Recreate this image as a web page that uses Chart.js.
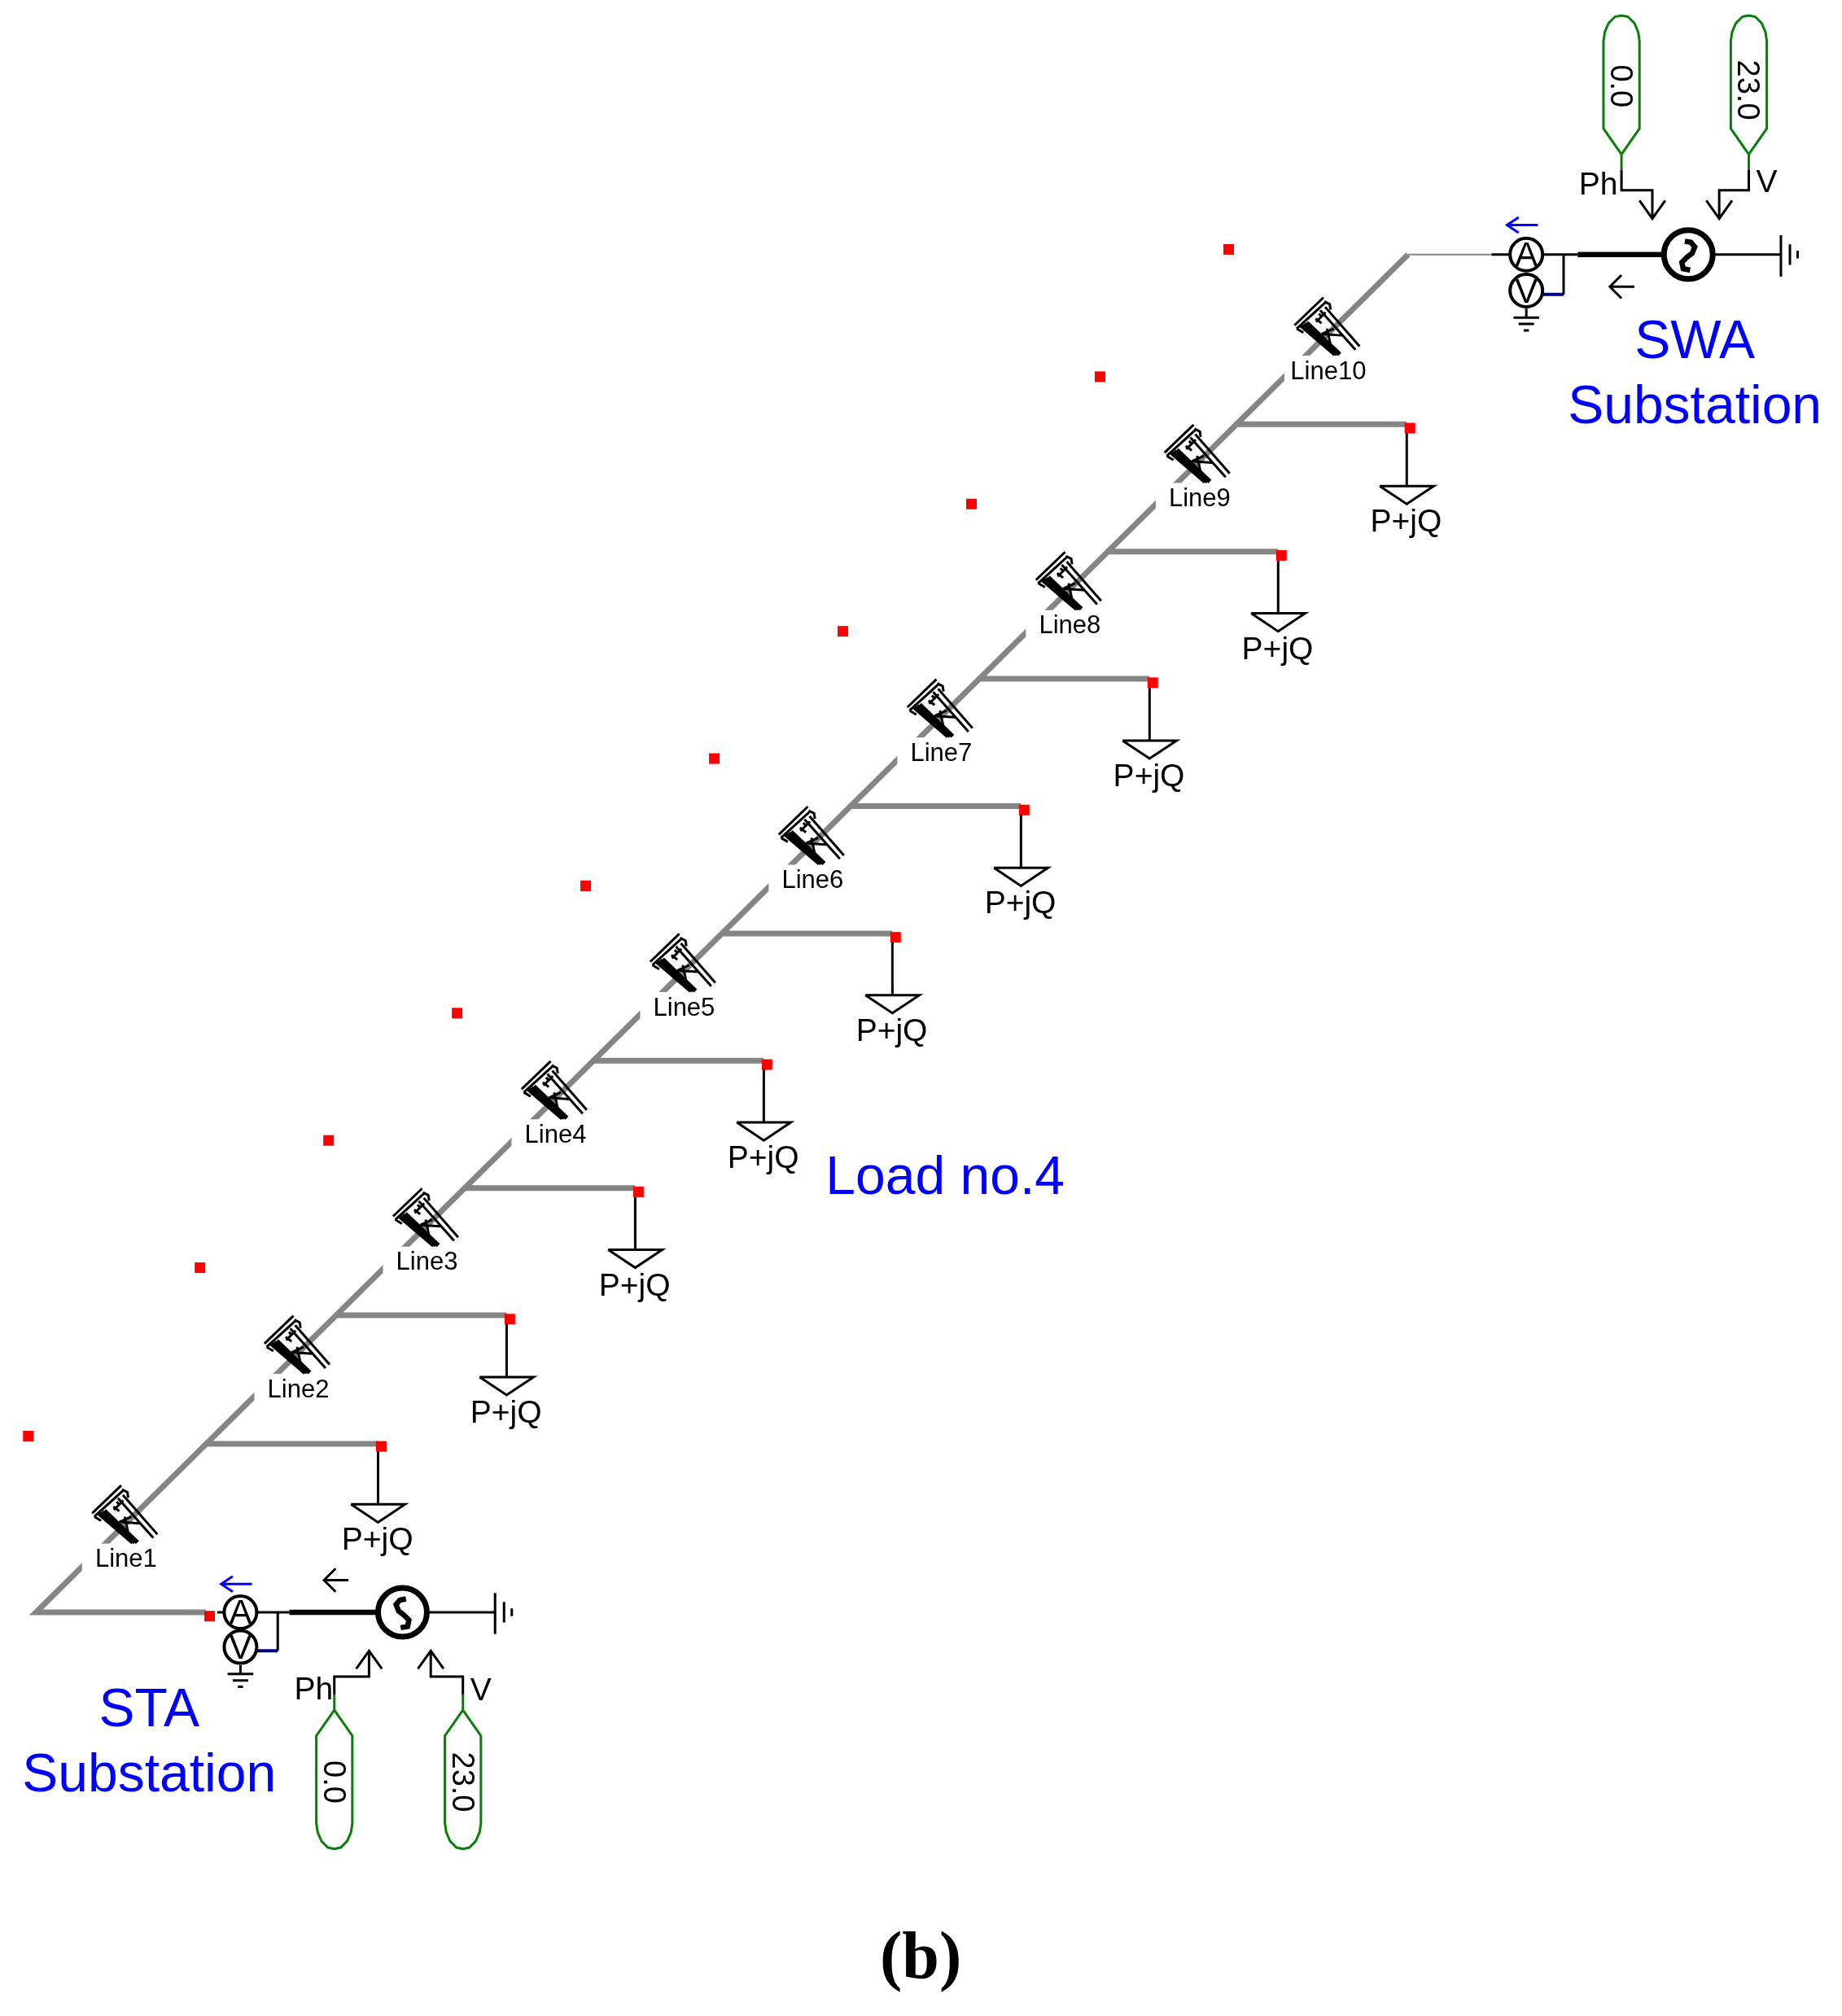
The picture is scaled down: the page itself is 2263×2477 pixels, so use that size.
<!DOCTYPE html>
<html>
<head>
<meta charset="utf-8">
<title>Feeder diagram</title>
<script src="https://cdn.jsdelivr.net/npm/chart.js@4"></script>
<style>
  html, body { margin: 0; padding: 0; background: #fff; }
  canvas { display: block; }
</style>
</head>
<body>
<canvas id="diagram" width="2263" height="2477" style="width:2263px;height:2477px"></canvas>
<script>
// all positions below are in the units of the value axes (picture scaled to 1432.5 x 1568)
const lineNames = ["Line1", "Line2", "Line3", "Line4", "Line5", "Line6", "Line7", "Line8", "Line9", "Line10"];
const lineLabelX = [98, 232, 332, 432, 532, 632, 732, 832, 933, 1033];
const lineLabelY = [1212, 1080, 981, 882, 783, 684, 585, 486, 387, 288];
const towerX = [97, 231, 331, 431, 531, 631, 731, 831, 931, 1032];
const towerY = [1177.5, 1045.5, 946.5, 847.5, 748.5, 649.5, 550.5, 451.5, 352.5, 253.5];

const branchStartX = [160, 260, 360, 460, 560, 660, 760, 860, 960];
const loadX = [294, 394, 494, 594, 694, 794, 894, 994, 1094];
const branchY = [1123, 1023, 924, 825, 726, 627, 528, 429, 330];
const loadTipY = [1184, 1085, 986, 887, 788, 689, 590, 491, 392];
const loadLabelX = [293.5, 393.5, 493.5, 593.5, 693.5, 793.5, 893.5, 993.5, 1093.5];
const loadLabelY = [1197, 1098, 999, 900, 801, 702, 603, 504, 405];

const freeDotX = [22, 155.5, 255.5, 355.5, 455.5, 555.5, 655.5, 755.5, 855.5, 955.5];
const freeDotY = [1117, 986, 887, 788, 689, 590, 491, 392, 293, 194];
const loadDotX = [163, 296.5, 396.5, 496.5, 596.5, 696.5, 796.5, 896.5, 996.5, 1096.5];
const loadDotY = [1257, 1125, 1026, 927, 828, 729, 630, 531, 432, 333];

const feederX = [160, 28, 1095];
const feederY = [1254, 1254, 198];

const sourceNames = ["STA", "SWA"];
const busY = [1254, 198];
const ammeterX = [187, 1187];
const voltmeterY = [1281, 226];
const generatorX = [313, 1313];
const setPointValues = ["0.0", "23.0"];

// tower symbol, offsets read from the Line9 symbol at 3x
const towerStrokes = [
  [[-120, -2], [-13, -105]],
  [[-112, 10], [-2, -90]],
  [[-112, 10], [-87, 25]],
  [[-10, -90], [10, -80], [13, -60]],
  [[-7, -70], [120, 75]],
  [[-25, -58], [105, 88]],
  [[-82, -17], [-27, -67]],
  [[-42, -27], [-20, -10]],
  [[-40, -15], [-20, -35], [-30, -45]],
  [[-20, -35], [-5, -50]],
  [[-20, 30], [55, 35]],
  [[0, 10], [15, 80]],
  [[-20, 30], [25, 10]]
];
const towerHeavyStrokes = [
  [[-95, -2], [30, 105]],
  [[-85, -7], [38, 105]],
  [[-75, -12], [47, 105]]
];
const capsuleOutline = [[0, 0], [14, 20], [14, 88], [13, 95], [10, 102], [5, 107], [0, 108], [-5, 107], [-10, 102], [-13, 95], [-14, 88], [-14, 20], [0, 0]];
const squiggle = [[2.7, -10.4], [-2, -9.5], [-5, -6], [-3, -1], [1, 2], [5, 6], [4, 11], [-1.4, 12]];

const GAP = { x: NaN, y: NaN };
const TOWER_SCALE = 1 / 4.74;

function addStroke(list, pts) {
  pts.forEach(p => list.push({ x: p[0], y: p[1] }));
  list.push(GAP);
}

const feeder = [], feederThin = [], medium = [], heavy = [], navy = [], green = [], blue = [], towerLines = [], towerHeavy = [];

addStroke(feeder, feederX.map((x, i) => [x, feederY[i]]));
addStroke(feederThin, [[1095, 198], [1160, 198]]);
branchStartX.forEach((x, i) => {
  addStroke(feeder, [[x, branchY[i]], [loadX[i], branchY[i]]]);
  const tip = loadTipY[i];
  addStroke(medium, [[loadX[i], branchY[i]], [loadX[i], tip - 14]]);
  addStroke(medium, [[loadX[i] - 21, tip - 14], [loadX[i] + 21, tip - 14], [loadX[i], tip], [loadX[i] - 21, tip - 14]]);
});

towerX.forEach((x, i) => {
  towerStrokes.forEach(s => addStroke(towerLines, s.map(p => [x + p[0] * TOWER_SCALE, towerY[i] + p[1] * TOWER_SCALE])));
  towerHeavyStrokes.forEach(s => addStroke(towerHeavy, s.map(p => [x + p[0] * TOWER_SCALE, towerY[i] + p[1] * TOWER_SCALE])));
});

sourceNames.forEach((name, i) => {
  const y = busY[i], a = ammeterX[i], g = generatorX[i], vy = voltmeterY[i];
  const top = i === 1;
  const busStart = top ? a + 40 : a + 38;
  addStroke(medium, [[top ? a - 27 : a - 18, y], [a - 13, y]]);
  addStroke(medium, [[a + 13, y], [busStart, y]]);
  addStroke(medium, [[g + 20, y], [g + 72, y]]);
  addStroke(heavy, [[busStart, y], [g - 20, y]]);
  addStroke(medium, [[a + 29, y], [a + 29, vy + 3]]);
  addStroke(navy, [[a + 13, vy + 3], [a + 29, vy + 3]]);
  // earth marks
  addStroke(medium, [[g + 72, y - 15], [g + 72, y + 17]]);
  addStroke(medium, [[g + 79, y - 8], [g + 79, y + 8]]);
  addStroke(medium, [[g + 85, y - 3], [g + 85, y + 3]]);
  addStroke(medium, [[a, vy + 14], [a, vy + 21]]);
  addStroke(medium, [[a - 10, vy + 21], [a + 10, vy + 21]]);
  addStroke(medium, [[a - 6, vy + 26], [a + 6, vy + 26]]);
  addStroke(medium, [[a - 2, vy + 31], [a + 2, vy + 31]]);
  // direction arrows
  const by = top ? y - 23 : y - 22;
  addStroke(blue, [[a + 9, by], [a - 15, by]]);
  addStroke(blue, [[a - 6, by - 6], [a - 15, by], [a - 6, by + 6]]);
  const ax = g - 61, ay = top ? y + 25 : y - 25;
  addStroke(medium, [[ax + 9, ay - 9], [ax, ay], [ax + 9, ay + 9]]);
  addStroke(medium, [[ax, ay], [ax + 19, ay]]);
  // generator wave
  addStroke(heavy, squiggle.map(p => [g + (top ? -p[0] : p[0]), y + p[1]]));
  // set points
  const ctrlX = top ? [1261, 1360] : [260, 360];
  const ctrlTo = top ? [1285, 1337] : [287, 335];
  const s = top ? 1 : -1;
  const tipY = top ? 120 : 1330;
  const bendY = top ? 148 : 1304;
  const headY = top ? 170 : 1284;
  ctrlX.forEach((cx, j) => {
    addStroke(medium, [[cx, tipY + s * 12], [cx, bendY], [ctrlTo[j], bendY], [ctrlTo[j], headY]]);
    addStroke(medium, [[ctrlTo[j] - 10, headY - s * 14], [ctrlTo[j], headY], [ctrlTo[j] + 10, headY - s * 14]]);
    addStroke(green, [[cx, tipY], [cx, tipY + s * 12]]);
    addStroke(green, capsuleOutline.map(p => [cx + p[0], tipY - s * p[1]]));
  });
});

const meterPoints = [];
ammeterX.forEach((x, i) => {
  meterPoints.push({ x: x, y: busY[i] });
  meterPoints.push({ x: x, y: voltmeterY[i] });
});

function lineSet(label, data, color, width, order) {
  return { label, data, borderColor: color, borderWidth: width, showLine: true, pointRadius: 0, tension: 0, spanGaps: false, order, borderCapStyle: "butt", borderJoinStyle: "miter", fill: false };
}

const labelTexts = [];
function addText(t, x, y, size, color, extra) {
  labelTexts.push(Object.assign({ t, x, y, size, color, face: "Liberation Sans", weight: "" }, extra));
}
lineNames.forEach((t, i) => addText(t, lineLabelX[i], lineLabelY[i], 31, "#000"));
loadLabelX.forEach((x, i) => addText("P+jQ", x, loadLabelY[i], 39, "#000"));
addText("Load no.4", 735, 914, 66, "#0000ff");
addText("SWA", 1318, 264, 66, "#0000ff");
addText("Substation", 1318, 315, 66, "#0000ff");
addText("STA", 116, 1328, 66, "#0000ff");
addText("Substation", 116, 1379, 66, "#0000ff");
addText("Ph", 1243, 143, 39, "#000");
addText("V", 1374, 141, 39, "#000");
addText("Ph", 244, 1313, 39, "#000");
addText("V", 374, 1314, 39, "#000");
addText("(b)", 716, 1521, 82, "#000", { face: "Liberation Serif", weight: "bold " });
ammeterX.forEach((x, i) => {
  addText("A", x, busY[i], 42, "#000");
  addText("V", x, voltmeterY[i], 42, "#000");
});
setPointValues.forEach((t, j) => {
  const topX = [1261, 1360], botX = [260, 360];
  addText(t, topX[j], j ? 70 : 67, 38, "#000", { rot: Math.PI / 2 });
  addText(t, botX[j], 1386, 38, "#000", { rot: Math.PI / 2 });
});

const diagramPlugin = {
  id: "diagramText",
  afterDatasetDraw(chart, args) {
    // the line labels blank out the feeder underneath them
    if (chart.data.datasets[args.index].label !== "feeder") return;
    const { ctx, scales } = chart;
    ctx.save();
    ctx.fillStyle = "#fff";
    lineLabelX.forEach((x, i) => {
      const px = scales.x.getPixelForValue(x), py = scales.y.getPixelForValue(lineLabelY[i]);
      ctx.fillRect(px - 54, py - 18, 108, 50);
    });
    ctx.restore();
  },
  afterDraw(chart) {
    const { ctx, scales } = chart;
    ctx.save();
    ctx.textAlign = "center";
    ctx.textBaseline = "middle";
    labelTexts.forEach(l => {
      ctx.save();
      ctx.translate(scales.x.getPixelForValue(l.x), scales.y.getPixelForValue(l.y));
      if (l.rot) ctx.rotate(l.rot);
      ctx.font = l.weight + l.size + "px '" + l.face + "'";
      ctx.fillStyle = l.color;
      ctx.fillText(l.t, 0, l.size * 0.07);
      ctx.restore();
    });
    ctx.restore();
  }
};

new Chart(document.getElementById("diagram").getContext("2d"), {
  type: "scatter",
  data: {
    datasets: [
      lineSet("feeder", feeder, "#858585", 7, 100),
      lineSet("feederThin", feederThin, "#858585", 2, 90),
      {
        label: "loadDots", data: loadDotX.map((x, i) => ({ x, y: loadDotY[i] })),
        pointStyle: "rect", pointRadius: 9.2, backgroundColor: "#ff0000", borderWidth: 0, order: 5
      },
      {
        label: "freeDots", data: freeDotX.map((x, i) => ({ x, y: freeDotY[i] })),
        pointStyle: "rect", pointRadius: 9.2, backgroundColor: "#ff0000", borderWidth: 0, order: 5
      },
      lineSet("thin", medium, "#000", 3, 20),
      lineSet("navy", navy, "#000080", 4, 21),
      lineSet("heavy", heavy, "#000", 6.5, 22),
      lineSet("green", green, "#0a7d0a", 3, 23),
      lineSet("blue", blue, "#0000ff", 3, 24),
      lineSet("towers", towerLines, "#000", 3, 25),
      lineSet("towersHeavy", towerHeavy, "#000", 5.5, 26),
      {
        label: "meters", data: meterPoints, pointStyle: "circle", pointRadius: 20,
        backgroundColor: "rgba(0,0,0,0)", borderColor: "#000", borderWidth: 4, order: 2
      },
      {
        label: "generators", data: generatorX.map((x, i) => ({ x, y: busY[i] })), pointStyle: "circle", pointRadius: 30,
        backgroundColor: "#fff", borderColor: "#000", borderWidth: 7, order: 30
      }
    ]
  },
  options: {
    responsive: false,
    devicePixelRatio: 1,
    animation: false,
    events: [],
    layout: { padding: 0, autoPadding: false },
    plugins: { legend: { display: false }, tooltip: { enabled: false }, title: { display: false } },
    scales: {
      x: { type: "linear", min: 0, max: 1432.5, display: false },
      y: { type: "linear", min: 0, max: 1568, reverse: true, display: false }
    }
  },
  plugins: [diagramPlugin]
});
</script>
</body>
</html>
